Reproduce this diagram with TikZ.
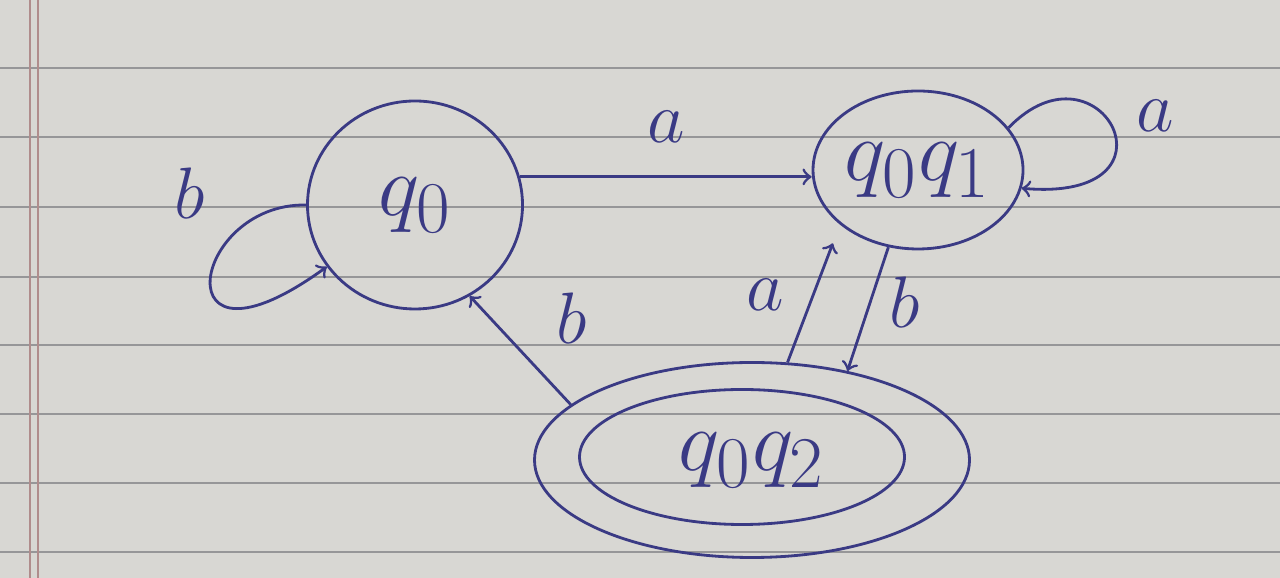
\documentclass[tikz,border=0pt]{standalone}
\usepackage{amsmath}
\usepackage{tikz}
\usetikzlibrary{shapes.geometric}
\definecolor{ink}{RGB}{58,58,132}
\definecolor{paper}{RGB}{216,215,211}
\definecolor{rule}{RGB}{150,150,152}
\definecolor{margin}{RGB}{176,140,140}

\begin{document}
\begin{tikzpicture}[every node/.style={ink}, state/.style={draw=ink, ellipse, thick, inner sep=0pt, font=\fontsize{30}{36}\selectfont}, lbl/.style={font=\huge}, edge/.style={draw=ink, thick, ->}]
    \useasboundingbox (0,0) rectangle (12.8,5.78);
    \fill [paper] (0,0) rectangle (12.8,5.78);
    \foreach \y in {0.26,0.95,1.64,2.33,3.01,3.71,4.41,5.10} {
      \draw [rule, thin] (0,\y) -- (12.8,\y);
    }
    \draw [margin] (0.30,0) -- (0.30,5.78);
    \draw [margin] (0.38,0) -- (0.38,5.78);
    \node [state, minimum width=2.15cm, minimum height=2.08cm] (q0) at (4.15,3.73) {$q_0$};
    \node [state, minimum width=2.1cm, minimum height=1.58cm] (q0q1) at (9.18,4.08) {$q_0q_1$};
    \node [state, minimum width=4.35cm, minimum height=1.95cm] (q0q2) at (7.52,1.18) {$q_0q_2$};
    \node [state, minimum width=3.25cm, minimum height=1.35cm] (q0q2in) at (7.42,1.21) {};
    \draw [edge] (q0.15) -- (q0q1.west |- q0.15) node [lbl, midway, above=6pt] {$a$};
    \draw [edge] (q0.180) .. controls (1.9,3.75) and (1.6,1.9) .. (q0.215);
    \node [lbl] (lb0) at (1.9,3.85) {$b$};
    \draw [edge] (q0q1.25) .. controls (11.0,5.45) and (11.9,3.75) .. (q0q1.-10);
    \node [lbl] (la1) at (11.55,4.62) {$a$};
    \draw [edge, shorten >=0.2cm] (q0q2.70) -- (q0q1.215);
    \node [lbl] (la2) at (7.65,2.83) {$a$};
    \draw [edge] (q0q1.249) -- (q0q2.43);
    \node [lbl] (lb1) at (9.05,2.76) {$b$};
    \draw [edge] (q0q2.163) -- (q0.-59);
    \node [lbl] (lb2) at (5.72,2.6) {$b$};
  \end{tikzpicture}
\end{document}
